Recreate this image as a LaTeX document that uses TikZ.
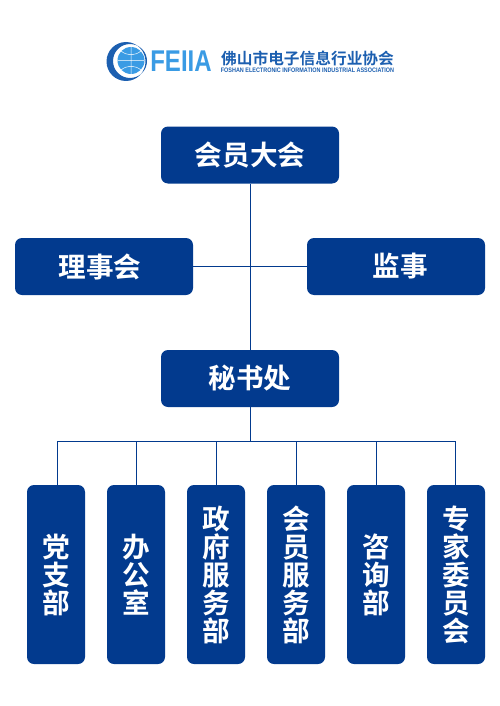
\documentclass[tikz,border=0pt]{standalone}
\usepackage{fontspec}
\setmainfont{Noto Sans CJK SC}[BoldFont={* Bold}]
\newfontfamily\logolatin{Liberation Sans}
\definecolor{feiablue}{HTML}{023A8E}
\definecolor{logoblue}{HTML}{1C5FB0}
\definecolor{logosky}{HTML}{3A9BE4}
\begin{document}
\begin{tikzpicture}[
  x=1pt, y=-1pt,
  widebox/.style={draw=none, fill=feiablue, rounded corners=7pt, text=white, align=center, font=\fontsize{27.6}{30}\selectfont\bfseries, minimum width=178pt, minimum height=57pt, inner sep=0pt},
  tallbox/.style={draw=none, fill=feiablue, rounded corners=7pt, text=white, align=center, font=\fontsize{27.6}{28}\selectfont\bfseries, minimum width=58pt, minimum height=179pt, inner sep=0pt},
  link/.style={draw=feiablue, line width=0.7pt}
]
\useasboundingbox (0,0) rectangle (500,706);
% logo
\fill[logosky] (131,60.5) circle (13.5pt);
\draw[white, line width=0.5pt] (118,60.5) -- (144,60.5) (131,47) -- (131,74) (121,51) .. controls (127,56) and (135,56) .. (141,51) (121,70) .. controls (127,65) and (135,65) .. (141,70);
\fill[logoblue, even odd rule] (126,61.5) circle (19.5pt) (130,61) circle (17pt);
\node[text=logosky, font=\logolatin\fontsize{24}{24}\selectfont\bfseries, inner sep=0pt] (feiia) at (181,61.5) {\scalebox{1}[1.25]{FEIIA}};
\node[text=logoblue, font=\fontsize{15.7}{16}\selectfont\bfseries, inner sep=0pt] (cnname) at (307.5,58.5) {佛山市电子信息行业协会};
\node[text=logoblue, font=\logolatin\fontsize{6.5}{7}\selectfont\bfseries, inner sep=0pt] (enname) at (307.5,70.5) {\scalebox{0.84}[1]{FOSHAN ELECTRONIC INFORMATION INDUSTRIAL ASSOCIATION}};

\node[widebox] (congress) at (250,155) {会员大会};
\node[widebox] (council) at (104,266.5) {理事会\hspace*{8pt}};
\node[widebox] (supervisor) at (396,266.5) {\hspace*{8pt}监事};
\node[widebox] (secretariat) at (250,378.5) {秘书处};
\node[tallbox] (party) at (56,574.5) {党\\支\\部};
\node[tallbox] (office) at (136,574.5) {办\\公\\室};
\node[tallbox] (gov) at (216,574.5) {政\\府\\服\\务\\部};
\node[tallbox] (member) at (296,574.5) {会\\员\\服\\务\\部};
\node[tallbox] (consult) at (376,574.5) {咨\\询\\部};
\node[tallbox] (expert) at (456,574.5) {专\\家\\委\\员\\会};
\coordinate (bus) at (250,441);

\draw[link] (congress) -- (secretariat);
\draw[link] (council) -- (supervisor);
\draw[link] (secretariat) -- (bus);
\draw[link] (bus) -| ([xshift=1pt]party.north);
\draw[link] (bus) -| ([xshift=-1pt]expert.north);
\foreach \dept in {office,gov,member,consult}
  \draw[link] (bus) -| (\dept);
\end{tikzpicture}
\end{document}
